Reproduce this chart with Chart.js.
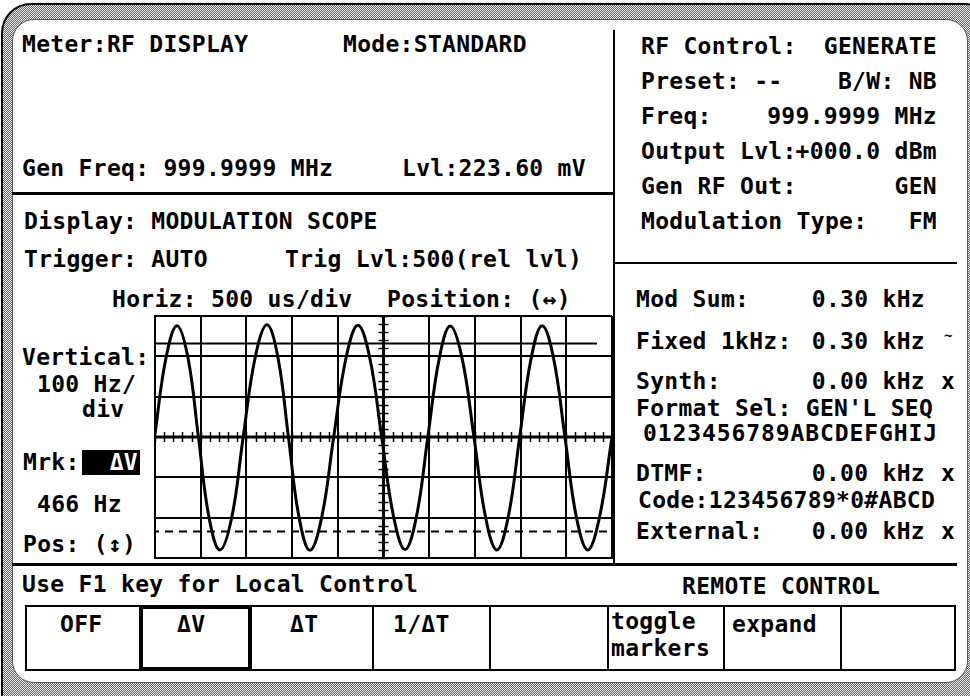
<!DOCTYPE html>
<html>
<head>
<meta charset="utf-8">
<script src="https://cdn.jsdelivr.net/npm/chart.js@4.4.0/dist/chart.umd.min.js"></script>
<style>
html,body{margin:0;padding:0;background:#fff;width:970px;height:696px;overflow:hidden}
#frame{position:absolute;left:1px;top:3px;width:990px;height:720px;border:2px solid #000;border-radius:30px;
  background:repeating-conic-gradient(#6a6a6a 0 25%,#e8e8e8 0 50%) 0 0/2px 2px}
#screen{position:absolute;left:12px;top:19px;width:956px;height:664px;background:#fff;border:1px solid #555;border-radius:22px;box-sizing:border-box}
.t{position:absolute;font-family:"DejaVu Sans Mono",monospace;font-weight:bold;font-size:23px;line-height:18px;margin-top:3px;letter-spacing:0.3px;white-space:pre;color:#000}
.hl{position:absolute;background:#000}
.k{position:absolute;top:605px;height:66px;border:2px solid #000;box-sizing:border-box}
#scope{position:absolute;left:145px;top:306px}
</style>
</head>
<body>
<div id="frame"></div>
<div id="screen"></div>

<!-- top left panel -->
<div class="t" style="left:22px;top:32px">Meter:RF DISPLAY</div>
<div class="t" style="left:343px;top:32px">Mode:STANDARD</div>
<div class="t" style="left:22px;top:156px">Gen Freq: 999.9999 MHz</div>
<div class="t" style="left:402px;top:156px">Lvl:223.60 mV</div>

<!-- right panel -->
<div class="t" style="left:641px;top:34px">RF Control:</div>
<div class="t" style="right:33px;top:34px">GENERATE</div>
<div class="t" style="left:641px;top:69px">Preset: --</div>
<div class="t" style="right:33px;top:69px">B/W: NB</div>
<div class="t" style="left:641px;top:104px">Freq:</div>
<div class="t" style="right:33px;top:104px">999.9999 MHz</div>
<div class="t" style="left:641px;top:139px">Output Lvl:</div>
<div class="t" style="right:33px;top:139px">+000.0 dBm</div>
<div class="t" style="left:641px;top:174px">Gen RF Out:</div>
<div class="t" style="right:33px;top:174px">GEN</div>
<div class="t" style="left:641px;top:209px">Modulation Type:</div>
<div class="t" style="right:33px;top:209px">FM</div>

<div class="t" style="left:636px;top:287px">Mod Sum:</div>
<div class="t" style="right:45px;top:287px">0.30 kHz</div>
<div class="t" style="left:636px;top:329px">Fixed 1kHz:</div>
<div class="t" style="right:45px;top:329px">0.30 kHz</div>
<div class="t" style="left:944px;top:326px;font-size:14px;line-height:12px">~</div>
<div class="t" style="left:636px;top:369px">Synth:</div>
<div class="t" style="right:45px;top:369px">0.00 kHz</div>
<div class="t" style="left:941px;top:369px">x</div>
<div class="t" style="left:636px;top:396px">Format Sel: GEN'L SEQ</div>
<div class="t" style="left:643px;top:421px;letter-spacing:0.9px">0123456789ABCDEFGHIJ</div>
<div class="t" style="left:636px;top:461px">DTMF:</div>
<div class="t" style="right:45px;top:461px">0.00 kHz</div>
<div class="t" style="left:941px;top:461px">x</div>
<div class="t" style="left:638px;top:488px">Code:123456789*0#ABCD</div>
<div class="t" style="left:636px;top:519px">External:</div>
<div class="t" style="right:45px;top:519px">0.00 kHz</div>
<div class="t" style="left:941px;top:519px">x</div>

<!-- scope panel -->
<div class="t" style="left:24px;top:209px">Display: MODULATION SCOPE</div>
<div class="t" style="left:24px;top:247px">Trigger: AUTO</div>
<div class="t" style="left:285px;top:247px">Trig Lvl:500(rel lvl)</div>
<div class="t" style="left:112px;top:287px">Horiz: 500 us/div</div>
<div class="t" style="left:387px;top:287px">Position: (↔)</div>
<div class="t" style="left:22px;top:345px">Vertical:</div>
<div class="t" style="left:37px;top:372px">100 Hz/</div>
<div class="t" style="left:82px;top:397px">div</div>
<div class="t" style="left:23px;top:450px">Mrk:</div>
<div class="hl" style="left:82px;top:450px;width:58px;height:25px"></div>
<div class="t" style="right:832px;top:450px;color:#fff">ΔV</div>
<div class="t" id="mrkVal" style="left:37px;top:492px">466 Hz</div>
<div class="t" style="left:23px;top:532px">Pos: (↕)</div>

<!-- bottom -->
<div class="t" style="left:22px;top:572px">Use F1 key for Local Control</div>
<div class="t" style="left:682px;top:574px">REMOTE CONTROL</div>

<!-- divider lines -->
<div class="hl" style="left:12px;top:192px;width:603px;height:3px"></div>
<div class="hl" style="left:613px;top:30px;width:2px;height:535px"></div>
<div class="hl" style="left:613px;top:262px;width:344px;height:2px"></div>
<div class="hl" style="left:12px;top:563px;width:945px;height:3px"></div>

<!-- soft keys -->
<div class="k" style="left:25px;width:116px"></div>
<div class="k" style="left:139px;width:113px;border-width:4px"></div>
<div class="k" style="left:250px;width:124px"></div>
<div class="k" style="left:372px;width:119px"></div>
<div class="k" style="left:489px;width:120px"></div>
<div class="k" style="left:607px;width:118px"></div>
<div class="k" style="left:723px;width:119px"></div>
<div class="k" style="left:840px;width:116px"></div>
<div class="t" style="left:60px;top:612px">OFF</div>
<div class="t" style="left:177px;top:612px">ΔV</div>
<div class="t" style="left:290px;top:612px">ΔT</div>
<div class="t" style="left:393px;top:612px">1/ΔT</div>
<div class="t" style="left:611px;top:609px">toggle</div>
<div class="t" style="left:611px;top:636px">markers</div>
<div class="t" style="left:732px;top:612px">expand</div>

<canvas id="scope" width="477" height="262"></canvas>

<script>
// scope trace, horizontal in divisions (500 us/div), vertical in Hz (100 Hz/div)
const waveDiv = [0, 0.24, 0.48, 0.72, 0.95, 1.18, 1.42, 1.68, 1.93, 2.19, 2.45, 2.69, 2.92, 3.15, 3.39, 3.65, 3.91, 4.18, 4.44, 4.7, 4.96, 5.22, 5.47, 5.72, 5.97, 6.22, 6.46, 6.72, 6.98, 7.23, 7.48, 7.73, 7.98, 8.23, 8.47, 8.72, 8.97, 9.22, 9.47, 9.73, 10];
const waveHz = [8, 196, 276, 197, 0, -198, -280, -199, 0, 196, 278, 197, 0, -198, -281, -198, 0, 196, 277, 196, 0, -197, -279, -198, 0, 195, 275, 195, 0, -197, -280, -198, 0, 195, 276, 196, 0, -198, -280, -197, 0];

// delta V markers
const markerHi = 232;
const markerLo = -234;
const markerHiEnd = 9.67;

const xDivs = [0, 10];
const yRange = [-300, 300];
const hzPerDiv = 100;

function pts(xs, ys){
  return xs.map(function(x, i){ return {x: x, y: ys[i]}; });
}

// minor ticks on the center cross
const centerTicks = {
  id: 'centerTicks',
  beforeDatasetsDraw: function(chart){
    const ctx = chart.ctx;
    const xs = chart.scales.x, ys = chart.scales.y;
    const cx = xs.getPixelForValue((xDivs[0] + xDivs[1]) / 2);
    const cy = ys.getPixelForValue(0);
    ctx.save();
    ctx.strokeStyle = '#000';
    ctx.lineWidth = 3;
    ctx.beginPath();
    ctx.moveTo(xs.left, cy); ctx.lineTo(xs.right, cy);
    ctx.moveTo(cx, ys.top); ctx.lineTo(cx, ys.bottom);
    ctx.stroke();
    ctx.lineWidth = 1.5;
    ctx.beginPath();
    for (let v = xDivs[0]; v <= xDivs[1] + 0.001; v += 0.2) {
      const px = Math.round(xs.getPixelForValue(v)) + 0.5;
      ctx.moveTo(px, cy - 5); ctx.lineTo(px, cy + 5);
    }
    for (let v = yRange[0]; v <= yRange[1] + 0.001; v += hzPerDiv / 5) {
      const py = Math.round(ys.getPixelForValue(v)) + 0.5;
      ctx.moveTo(cx - 5, py); ctx.lineTo(cx + 5, py);
    }
    ctx.stroke();
    ctx.restore();
  }
};

new Chart(document.getElementById('scope'), {
  type: 'line',
  data: {
    datasets: [
      {
        label: 'trace',
        data: pts(waveDiv, waveHz),
        borderColor: '#000',
        borderWidth: 3,
        tension: 0.4,
        pointRadius: 0,
        fill: false
      },
      {
        label: 'marker hi',
        data: pts([0, markerHiEnd], [markerHi, markerHi]),
        borderColor: '#000',
        borderWidth: 2,
        pointRadius: 0
      },
      {
        label: 'marker lo',
        data: pts(xDivs, [markerLo, markerLo]),
        borderColor: '#000',
        borderWidth: 2,
        borderDash: [8, 6],
        borderDashOffset: -10,
        pointRadius: 0
      }
    ]
  },
  options: {
    responsive: false,
    animation: false,
    devicePixelRatio: 1,
    layout: { padding: 10 },
    plugins: { legend: { display: false }, tooltip: { enabled: false } },
    scales: {
      x: {
        type: 'linear', min: xDivs[0], max: xDivs[1],
        ticks: { display: false, stepSize: 1 },
        grid: { color: '#000', lineWidth: 2, drawTicks: false },
        border: { color: '#000', width: 2 }
      },
      y: {
        type: 'linear', min: yRange[0], max: yRange[1],
        ticks: { display: false, stepSize: hzPerDiv },
        grid: { color: '#000', lineWidth: 2, drawTicks: false },
        border: { color: '#000', width: 2 }
      }
    }
  },
  plugins: [centerTicks]
});

document.getElementById('mrkVal').textContent = (markerHi - markerLo) + ' Hz';
</script>
</body>
</html>
